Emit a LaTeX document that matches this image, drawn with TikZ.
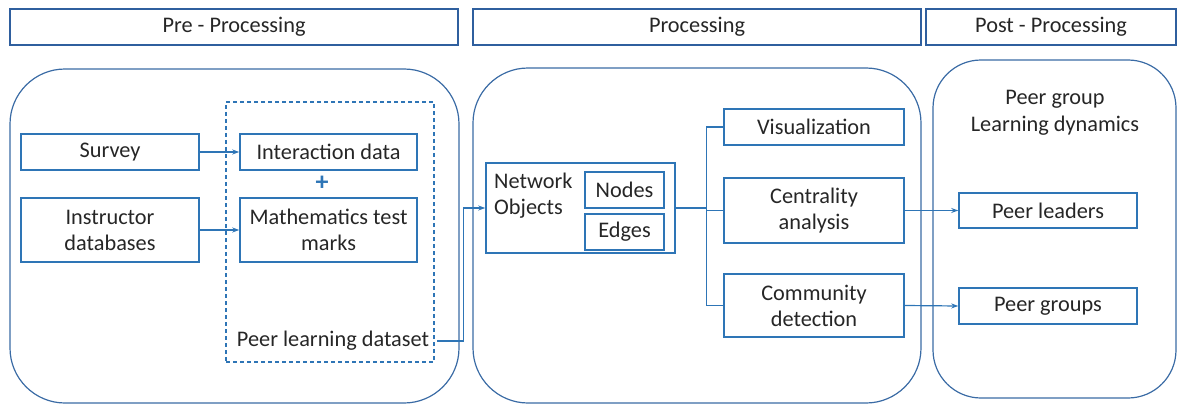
\documentclass[tikz,border=0pt]{standalone}
\usepackage{fontspec}
\setmainfont{Carlito}
\usetikzlibrary{arrows.meta}
\definecolor{bx}{HTML}{2E75B6}
\definecolor{pn}{HTML}{3A6BA5}
\definecolor{hd}{HTML}{2F5F9E}
\definecolor{tx}{HTML}{262626}
\tikzset{
  lbl/.style={text=tx, font=\fontsize{22.3}{26}\selectfont, align=center, inner sep=0pt},
  box/.style={lbl, draw=bx, line width=1.5pt},
  hdr/.style={lbl, draw=hd, line width=1.4pt},
  panel/.style={draw=pn, line width=1.2pt, rounded corners=55pt, inner sep=0pt},
  dbox/.style={draw=bx, line width=1.3pt, dash pattern=on 4pt off 3pt, inner sep=0pt},
  conn/.style={draw=bx, line width=1.2pt},
  arr/.style={conn, -{Stealth[length=7pt, width=5pt]}}
}
\begin{document}
\begin{tikzpicture}[x=1pt, y=-1pt]
\useasboundingbox (0,0) rectangle (1178,404);
% headers
\node[hdr, minimum width=448pt, minimum height=36pt] (h1) at (234,27) {Pre - Processing};
\node[hdr, minimum width=448pt, minimum height=36pt] (h2) at (697,27) {Processing};
\node[hdr, minimum width=250pt, minimum height=36pt] (h3) at (1051,27) {Post - Processing};
% panels
\node[panel, minimum width=449pt, minimum height=334pt] (p1) at (234.5,236) {};
\node[panel, minimum width=448pt, minimum height=335pt] (p2) at (697,235.5) {};
\node[panel, rounded corners=48pt, minimum width=243pt, minimum height=338pt] (p3) at (1054.5,229) {};
% pre-processing
\node[dbox, minimum width=208pt, minimum height=260pt] (dset) at (330,232) {};
\node[box, minimum width=178pt, minimum height=36pt] (survey) at (110,152) {Survey};
\node[box, minimum width=178pt, minimum height=64pt] (instr) at (110,230) {Instructor\\databases};
\node[box, minimum width=177pt, minimum height=36pt] (inter) at (328.5,152) {Interaction data};
\node[box, minimum width=177pt, minimum height=64pt] (math) at (328.5,230) {Mathematics test\\marks};
\node[text=bx, font=\fontsize{26}{26}\selectfont\bfseries, inner sep=0pt] (plus) at (322,183) {+};
\node[lbl] (ds) at (333,341) {Peer learning dataset};
% processing
\node[box, minimum width=189pt, minimum height=90pt] (net) at (580.5,208) {};
\node[lbl, anchor=west, align=left] (nettxt) at (494,196) {Network\\Objects};
\node[box, minimum width=79pt, minimum height=36pt] (nodes) at (624.5,190) {Nodes};
\node[box, minimum width=79pt, minimum height=36pt] (edges) at (624.5,232) {Edges};
\node[box, minimum width=180pt, minimum height=36pt] (vis) at (814,127) {Visualization};
\node[box, minimum width=180pt, minimum height=65pt] (cent) at (814,210.5) {Centrality\\analysis};
\node[box, minimum width=180pt, minimum height=63pt] (comm) at (814,305.5) {Community\\detection};
% post-processing
\node[lbl, font=\fontsize{22.3}{27}\selectfont] (dyn) at (1055,113) {Peer group\\Learning dynamics};
\node[box, minimum width=178pt, minimum height=35pt] (leaders) at (1048,210.5) {Peer leaders};
\node[box, minimum width=178pt, minimum height=36pt] (groups) at (1048,306) {Peer groups};
% connectors
\draw[arr] (survey.east) -- (inter.west);
\draw[arr] (instr.east) -- (math.west);
\draw[arr] ([xshift=8pt]ds.east) -| ([xshift=-22pt]net.west) -- (net.west);
\coordinate (br) at ([xshift=31pt]net.east);
\draw[conn] (net.east) -- (br);
\draw[conn] (br) |- (vis.west);
\draw[conn] (br) |- (cent.west);
\draw[conn] (br) |- (comm.west);
\draw[arr] (cent.east) -- (leaders.west);
\draw[arr] (comm.east) -- (groups.west);
\end{tikzpicture}
\end{document}
